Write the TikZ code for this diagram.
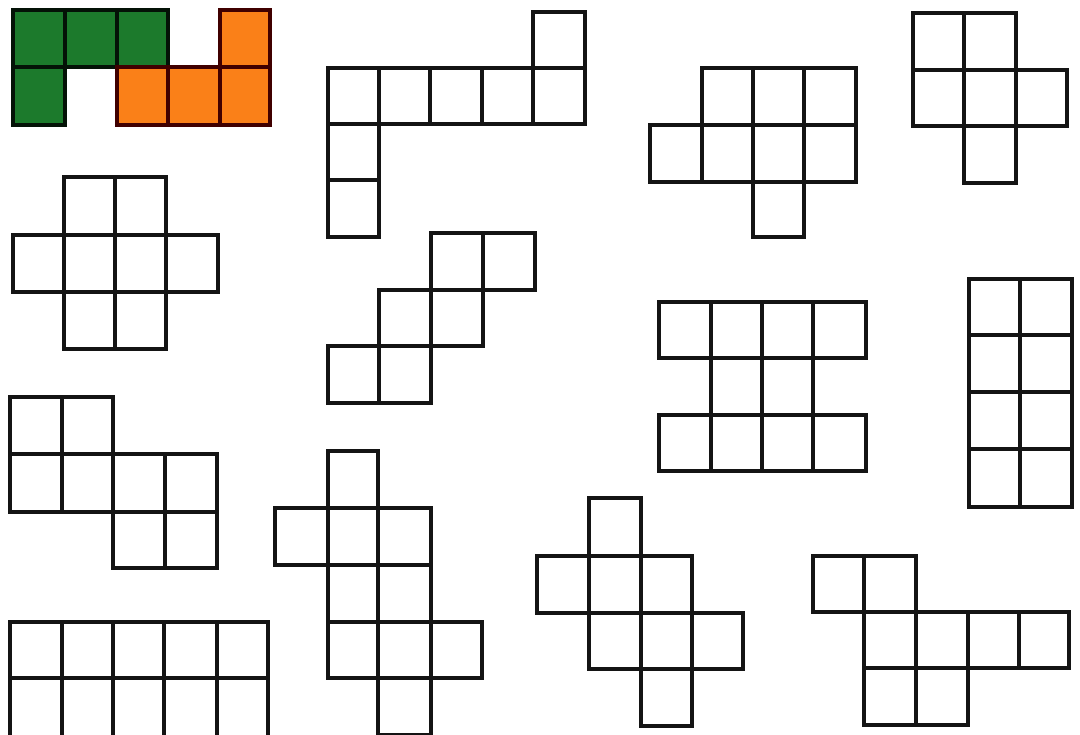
\documentclass[tikz,border=0pt]{standalone}
\definecolor{netgreen}{RGB}{28,122,44}
\definecolor{netorange}{RGB}{250,128,24}
\definecolor{netline}{RGB}{20,20,20}
\tikzset{
  cell/.style={draw=netline, line width=3.6pt, line join=miter},
  gcell/.style={cell, fill=netgreen, draw=black!85!netgreen},
  ocell/.style={cell, fill=netorange, draw=black!75!red},
}
\begin{document}
\begin{tikzpicture}[x=1pt,y=-1pt]
\useasboundingbox (0,0) rectangle (1080,735);
\fill[white] (0,0) rectangle (1080,735);
\clip (0,0) rectangle (1080,735);
% shape 1 (coloured)
\foreach \a/\b/\c/\d in {13/65/10/67, 65/117/10/67, 117/168/10/67, 13/65/67/125}
  \draw[gcell] (\a,\c) rectangle (\b,\d);
\foreach \a/\b/\c/\d in {220/270/10/67, 117/168/67/125, 168/220/67/125, 220/270/67/125}
  \draw[ocell] (\a,\c) rectangle (\b,\d);
% shape 2
\foreach \a/\b/\c/\d in {533/585/12/68, 328/379/68/124, 379/430/68/124, 430/482/68/124, 482/533/68/124, 533/585/68/124, 328/379/124/180, 328/379/180/237}
  \draw[cell] (\a,\c) rectangle (\b,\d);
% shape 3
\foreach \a/\b/\c/\d in {702/753/68/125, 753/804/68/125, 804/856/68/125, 650/702/125/182, 702/753/125/182, 753/804/125/182, 804/856/125/182, 753/804/182/237}
  \draw[cell] (\a,\c) rectangle (\b,\d);
% shape 4
\foreach \a/\b/\c/\d in {913/964/13/70, 964/1016/13/70, 913/964/70/126, 964/1016/70/126, 1016/1067/70/126, 964/1016/126/183}
  \draw[cell] (\a,\c) rectangle (\b,\d);
% shape 5
\foreach \a/\b/\c/\d in {64/115/177/235, 115/166/177/235, 13/64/235/292, 64/115/235/292, 115/166/235/292, 166/218/235/292, 64/115/292/349, 115/166/292/349}
  \draw[cell] (\a,\c) rectangle (\b,\d);
% shape 6
\foreach \a/\b/\c/\d in {431/483/233/290, 483/535/233/290, 379/431/290/346, 431/483/290/346, 328/379/346/403, 379/431/346/403}
  \draw[cell] (\a,\c) rectangle (\b,\d);
% shape 7
\foreach \a/\b/\c/\d in {659/711/302/358, 711/762/302/358, 762/813/302/358, 813/866/302/358, 711/762/358/415, 762/813/358/415, 659/711/415/471, 711/762/415/471, 762/813/415/471, 813/866/415/471}
  \draw[cell] (\a,\c) rectangle (\b,\d);
% shape 8
\foreach \c/\d in {279/335, 335/392, 392/449, 449/507}{
  \draw[cell] (969,\c) rectangle (1020,\d);
  \draw[cell] (1020,\c) rectangle (1072,\d);
}
% shape 9
\foreach \a/\b/\c/\d in {10/62/397/454, 62/113/397/454, 10/62/454/512, 62/113/454/512, 113/165/454/512, 165/217/454/512, 113/165/512/568, 165/217/512/568}
  \draw[cell] (\a,\c) rectangle (\b,\d);
% shape 10
\foreach \a/\b/\c/\d in {328/378/451/508, 275/328/508/565, 328/378/508/565, 378/431/508/565, 328/378/565/622, 378/431/565/622, 328/378/622/678, 378/431/622/678, 431/482/622/678, 378/431/678/735}
  \draw[cell] (\a,\c) rectangle (\b,\d);
% shape 11
\foreach \a/\b/\c/\d in {589/641/498/556, 537/589/556/613, 589/641/556/613, 641/692/556/613, 589/641/613/669, 641/692/613/669, 692/743/613/669, 641/692/669/726}
  \draw[cell] (\a,\c) rectangle (\b,\d);
% shape 12
\foreach \a/\b/\c/\d in {813/864/556/612, 864/916/556/612, 864/916/612/668, 916/968/612/668, 968/1019/612/668, 1019/1069/612/668, 864/916/668/725, 916/968/668/725}
  \draw[cell] (\a,\c) rectangle (\b,\d);
% shape 13
\foreach \a/\b in {10/62, 62/113, 113/164, 164/217, 217/268}{
  \draw[cell] (\a,622) rectangle (\b,678);
  \draw[cell] (\a,678) rectangle (\b,738);
}
\end{tikzpicture}
\end{document}
